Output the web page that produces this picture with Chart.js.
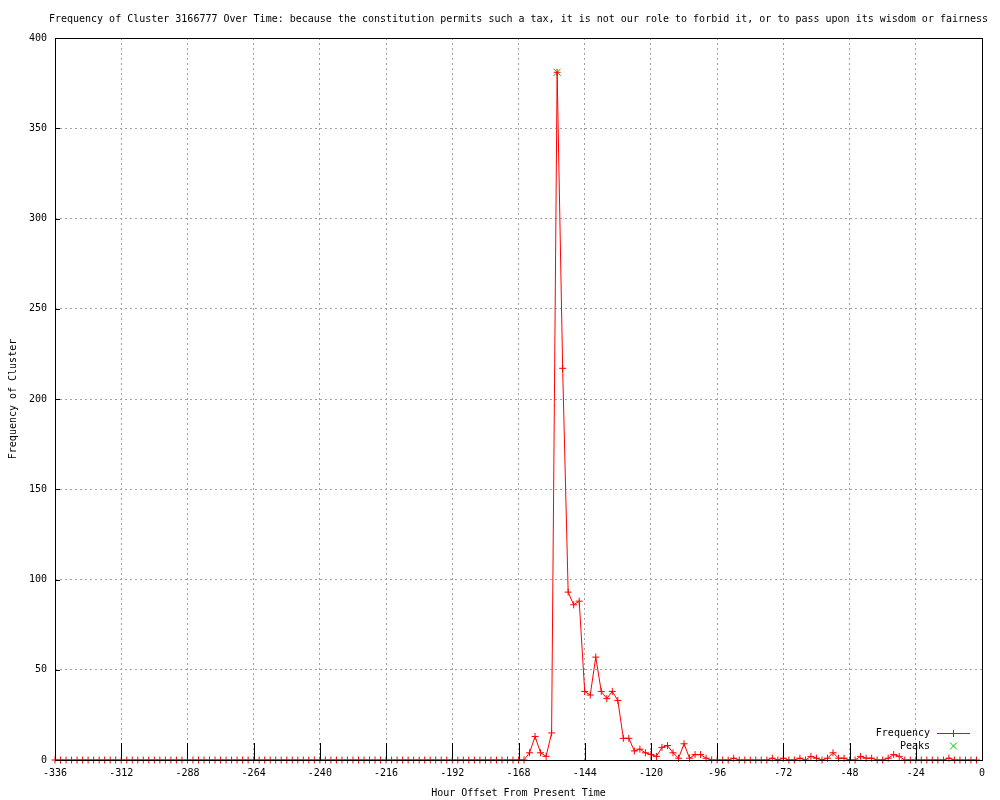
<!doctype html>
<html>

<head>
    <title>Frequency of Cluster 3166777</title>
    <script src="https://cdn.jsdelivr.net/npm/chart.js"></script>
    <style>
        body { margin: 0; background: #fff; }
        #wrap { width: 1000px; height: 800px; }
    </style>
</head>

<body>
    <div id="wrap">
        <canvas id="grafico" width="1000" height="800"></canvas>
    </div>

    <script>
        // hour offsets (x) and cluster frequency (y), one point every 2 hours
        const horas = [
            -336, -334, -332, -330, -328, -326, -324, -322, -320, -318, -316, -314,
            -312, -310, -308, -306, -304, -302, -300, -298, -296, -294, -292, -290,
            -288, -286, -284, -282, -280, -278, -276, -274, -272, -270, -268, -266,
            -264, -262, -260, -258, -256, -254, -252, -250, -248, -246, -244, -242,
            -240, -238, -236, -234, -232, -230, -228, -226, -224, -222, -220, -218,
            -216, -214, -212, -210, -208, -206, -204, -202, -200, -198, -196, -194,
            -192, -190, -188, -186, -184, -182, -180, -178, -176, -174, -172, -170,
            -168, -166, -164, -162, -160, -158, -156, -154, -152, -150, -148, -146,
            -144, -142, -140, -138, -136, -134, -132, -130, -128, -126, -124, -122,
            -120, -118, -116, -114, -112, -110, -108, -106, -104, -102, -100, -98,
            -96, -94, -92, -90, -88, -86, -84, -82, -80, -78, -76, -74,
            -72, -70, -68, -66, -64, -62, -60, -58, -56, -54, -52, -50,
            -48, -46, -44, -42, -40, -38, -36, -34, -32, -30, -28, -26,
            -24, -22, -20, -18, -16, -14, -12, -10, -8, -6, -4, -2
        ];
        const frequencia = [
            0, 0, 0, 0, 0, 0, 0, 0, 0, 0, 0, 0,
            0, 0, 0, 0, 0, 0, 0, 0, 0, 0, 0, 0,
            0, 0, 0, 0, 0, 0, 0, 0, 0, 0, 0, 0,
            0, 0, 0, 0, 0, 0, 0, 0, 0, 0, 0, 0,
            0, 0, 0, 0, 0, 0, 0, 0, 0, 0, 0, 0,
            0, 0, 0, 0, 0, 0, 0, 0, 0, 0, 0, 0,
            0, 0, 0, 0, 0, 0, 0, 0, 0, 0, 0, 0,
            0, 0, 4, 13, 4, 2, 15, 381, 217, 93, 86, 88,
            38, 36, 57, 38, 34, 38, 33, 12, 12, 5, 6, 4,
            3, 2, 7, 8, 4, 1, 9, 1, 3, 3, 1, 0,
            0, 0, 0, 1, 0, 0, 0, 0, 0, 0, 1, 0,
            1, 0, 0, 1, 0, 2, 1, 0, 1, 4, 1, 1,
            0, 0, 2, 1, 1, 0, 0, 1, 3, 2, 0, 0,
            0, 0, 0, 0, 0, 0, 1, 0, 0, 0, 0, 0
        ];
        const picosHoras = [-154];
        const picosValores = [381];

        const xTicks = [-336, -312, -288, -264, -240, -216, -192, -168, -144, -120, -96, -72, -48, -24, 0];
        const yTicks = [0, 50, 100, 150, 200, 250, 300, 350, 400];

        const titulo = 'Frequency of Cluster 3166777 Over Time: because the constitution permits such a tax, it is not our role to forbid it, or to pass upon its wisdom or fairness';
        const fonte = '10px "DejaVu Sans Mono", monospace';

        // title, box, inward tics and legend like gnuplot
        const estiloGnuplot = {
            id: 'estiloGnuplot',
            afterDatasetsDraw(chart) {
                const { ctx, chartArea: { top, bottom, left, right }, scales: { x, y } } = chart
                ctx.save()
                ctx.strokeStyle = '#000'
                ctx.lineWidth = 1
                ctx.setLineDash([])

                xTicks.forEach(v => {
                    const px = Math.round(x.getPixelForValue(v)) + 0.5
                    ctx.beginPath()
                    ctx.moveTo(px, bottom); ctx.lineTo(px, bottom - 17)
                    ctx.stroke()
                })
                yTicks.forEach(v => {
                    const py = Math.round(y.getPixelForValue(v)) + 0.5
                    ctx.beginPath()
                    ctx.moveTo(left, py); ctx.lineTo(left + 5, py)
                    ctx.stroke()
                })
                ctx.strokeRect(Math.round(left) + 0.5, Math.round(top) + 0.5, Math.round(right - left), Math.round(bottom - top))

                // titulo
                ctx.fillStyle = '#000'
                ctx.font = fonte
                ctx.textAlign = 'center'
                ctx.textBaseline = 'middle'
                ctx.fillText(titulo, (left + right) / 2, 19)

                // legenda
                ctx.textAlign = 'right'
                ctx.fillText('Frequency', 930, 733)
                ctx.fillText('Peaks', 930, 746)

                ctx.fillStyle = '#ff0000'
                ctx.fillRect(937, 733, 33, 1)
                ctx.fillRect(953, 730, 1, 7)

                ctx.beginPath()
                ctx.strokeStyle = '#00c000'
                ctx.moveTo(950, 742.5); ctx.lineTo(957, 749.5)
                ctx.moveTo(957, 742.5); ctx.lineTo(950, 749.5)
                ctx.stroke()
                ctx.restore()
            }
        }

        Chart.defaults.font.family = '"DejaVu Sans Mono", monospace';
        Chart.defaults.font.size = 10;
        Chart.defaults.color = '#000';

        var grafico = new Chart(document.getElementById('grafico').getContext('2d'), {
            type: 'line',
            data: {
                datasets: [{
                    label: 'Frequency',
                    data: horas.map((h, i) => ({ x: h, y: frequencia[i] })),
                    borderColor: '#ff0000',
                    backgroundColor: '#ff0000',
                    borderWidth: 1,
                    pointStyle: 'cross',
                    pointRadius: 3.5,
                    pointBorderWidth: 1,
                    pointHoverRadius: 3.5,
                    tension: 0,
                    fill: false,
                    clip: false
                }, {
                    label: 'Peaks',
                    data: picosHoras.map((h, i) => ({ x: h, y: picosValores[i] })),
                    borderColor: '#00c000',
                    backgroundColor: '#00c000',
                    showLine: false,
                    pointStyle: 'crossRot',
                    pointRadius: 5,
                    pointBorderWidth: 1,
                    clip: false
                }]
            },
            options: {
                responsive: false,
                animation: false,
                events: [],
                layout: {
                    padding: { left: 0, right: 18, top: 38, bottom: 0 }
                },
                plugins: {
                    legend: { display: false },
                    title: { display: false },
                    tooltip: { enabled: false }
                },
                scales: {
                    x: {
                        type: 'linear',
                        min: -336,
                        max: 0,
                        afterFit: s => { s.height = 40 },
                        afterBuildTicks: s => { s.ticks = xTicks.map(v => ({ value: v })) },
                        ticks: { padding: 7, maxRotation: 0, autoSkip: false },
                        grid: { color: '#a0a0a0', drawTicks: false },
                        border: { display: false, dash: [2, 3] },
                        title: {
                            display: true,
                            text: 'Hour Offset From Present Time',
                            padding: { top: 0, bottom: 1 }
                        }
                    },
                    y: {
                        min: 0,
                        max: 400,
                        afterFit: s => { s.width = 55 },
                        afterBuildTicks: s => { s.ticks = yTicks.map(v => ({ value: v })) },
                        ticks: { padding: 8 },
                        grid: { color: '#a0a0a0', drawTicks: false },
                        border: { display: false, dash: [2, 3] },
                        title: {
                            display: true,
                            text: 'Frequency of Cluster',
                            padding: { top: 7, bottom: 0 }
                        }
                    }
                }
            },
            plugins: [estiloGnuplot]
        });
    </script>
</body>

</html>
